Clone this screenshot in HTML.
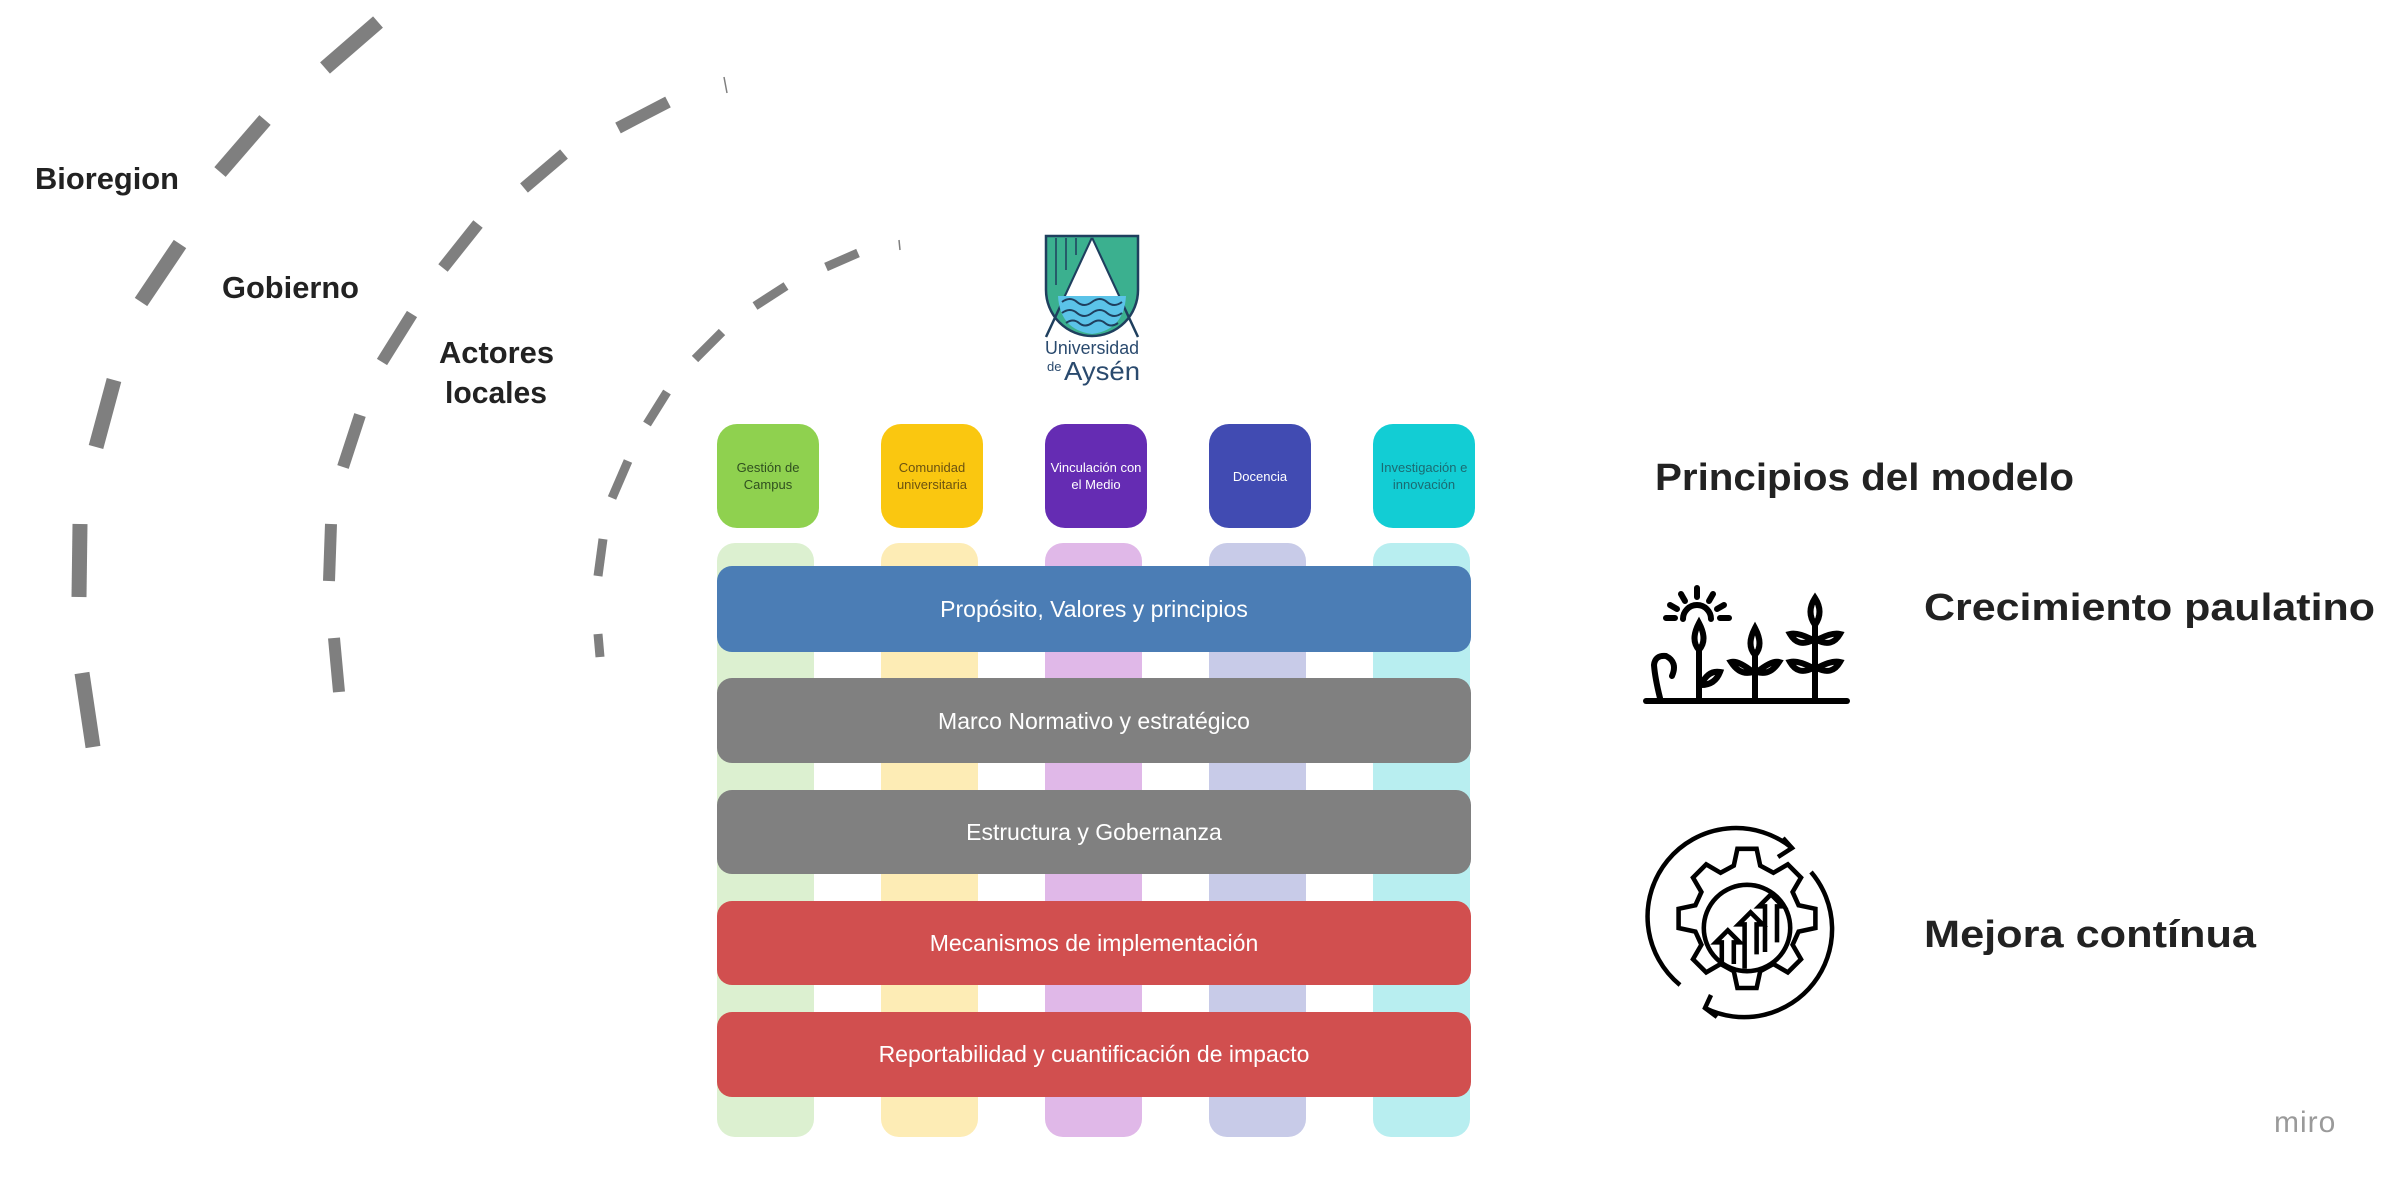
<!DOCTYPE html>
<html><head><meta charset="utf-8"><style>
html,body{margin:0;padding:0;background:#fff;}
svg{display:block;}
</style></head><body>
<svg width="2406" height="1192" viewBox="0 0 2406 1192" xmlns="http://www.w3.org/2000/svg" font-family="Liberation Sans, sans-serif">
<rect width="2406" height="1192" fill="#fff"/>
<g stroke="#7f7f7f" stroke-linecap="butt" fill="none">
 <g stroke-width="15">
  <line x1="325" y1="68" x2="378" y2="22"/>
  <line x1="220" y1="172" x2="265" y2="120"/>
  <line x1="141" y1="302" x2="180" y2="244"/>
  <line x1="96" y1="447" x2="114" y2="380"/>
  <line x1="79" y1="597" x2="80" y2="524"/>
  <line x1="82" y1="673" x2="93" y2="747"/>
 </g>
 <g stroke-width="12">
  <line x1="618" y1="128" x2="668" y2="102"/>
  <line x1="524" y1="188" x2="564" y2="154"/>
  <line x1="443" y1="268" x2="478" y2="224"/>
  <line x1="382" y1="362" x2="412" y2="314"/>
  <line x1="343" y1="467" x2="360" y2="415"/>
  <line x1="329" y1="581" x2="331" y2="524"/>
  <line x1="334" y1="638" x2="339" y2="692"/>
 </g>
 <line x1="724" y1="77" x2="727" y2="93" stroke-width="1.5"/>
 <g stroke-width="9">
  <line x1="826" y1="267" x2="858" y2="253"/>
  <line x1="755" y1="306" x2="786" y2="286"/>
  <line x1="695" y1="359" x2="722" y2="332"/>
  <line x1="647" y1="424" x2="667" y2="392"/>
  <line x1="612" y1="498" x2="628" y2="461"/>
  <line x1="598" y1="576" x2="603" y2="539"/>
  <line x1="598" y1="634" x2="600" y2="657"/>
 </g>
 <line x1="899" y1="240" x2="900" y2="250" stroke-width="1.5"/>
</g>
<g font-weight="bold" fill="#222" font-size="31">
 <text x="35" y="189" textLength="144" lengthAdjust="spacingAndGlyphs">Bioregion</text>
 <text x="222" y="298" textLength="137" lengthAdjust="spacingAndGlyphs">Gobierno</text>
 <text x="439" y="363" textLength="115" lengthAdjust="spacingAndGlyphs">Actores</text>
 <text x="445" y="403" textLength="102" lengthAdjust="spacingAndGlyphs">locales</text>
</g>
<g>
 <path d="M1046 236 H1138 V290 A46 46 0 0 1 1046 290 Z" fill="#3bb08f"/>
 <path d="M1092 238 L1138 337 M1092 238 L1046 337" stroke="#1f3f5e" stroke-width="2.5" fill="none"/>
 <path d="M1092 240 L1118 296 L1066 296 Z" fill="#fff"/>
 <path d="M1058 296 H1126 Q1124 330 1092 334 Q1060 330 1058 296Z" fill="#5bc3e8"/>
 <path d="M1062 302 q8-6 15 0 t15 0 t15 0 t15 0 M1062 313 q8-6 15 0 t15 0 t15 0 t15 0 M1066 323 q7-5 13 0 t13 0 t13 0 t13 0" stroke="#1f3f5e" stroke-width="2" fill="none"/>
 <path d="M1046 236 H1138 V290 A46 46 0 0 1 1046 290 Z" fill="none" stroke="#1f3f5e" stroke-width="2.5"/>
 <path d="M1056 238 V285 M1066 238 V270 M1076 238 V255" stroke="#1f3f5e" stroke-width="1.5"/>
 <text x="1092" y="354" text-anchor="middle" font-size="18" fill="#2a4a6e" textLength="94" lengthAdjust="spacingAndGlyphs">Universidad</text>
 <text x="1047" y="371" font-size="13" fill="#2a4a6e">de</text>
 <text x="1064" y="380" font-size="26" fill="#2a4a6e" textLength="76" lengthAdjust="spacingAndGlyphs">Aysén</text>
</g>
<g>
 <rect x="717" y="543" width="97" height="594" rx="18" fill="#dcf0d0"/>
 <rect x="881" y="543" width="97" height="594" rx="18" fill="#fdecb5"/>
 <rect x="1045" y="543" width="97" height="594" rx="18" fill="#e0b8e8"/>
 <rect x="1209" y="543" width="97" height="594" rx="18" fill="#c8cbe8"/>
 <rect x="1373" y="543" width="97" height="594" rx="18" fill="#b8eef0"/>
</g>
<g font-size="13" text-anchor="middle">
 <rect x="717" y="424" width="102" height="104" rx="20" fill="#8fd14f"/>
 <text x="768" y="472" fill="#2f4f1f">Gestión de</text><text x="768" y="489" fill="#2f4f1f">Campus</text>
 <rect x="881" y="424" width="102" height="104" rx="20" fill="#fac710"/>
 <text x="932" y="472" fill="#6b5210">Comunidad</text><text x="932" y="489" fill="#6b5210">universitaria</text>
 <rect x="1045" y="424" width="102" height="104" rx="20" fill="#652cb3"/>
 <text x="1096" y="472" fill="#fff">Vinculación con</text><text x="1096" y="489" fill="#fff">el Medio</text>
 <rect x="1209" y="424" width="102" height="104" rx="20" fill="#414bb2"/>
 <text x="1260" y="481" fill="#fff">Docencia</text>
 <rect x="1373" y="424" width="102" height="104" rx="20" fill="#12cdd4"/>
 <text x="1424" y="472" fill="#1b6b72">Investigación e</text><text x="1424" y="489" fill="#1b6b72">innovación</text>
</g>
<g font-size="23" fill="#fff" text-anchor="middle">
 <rect x="717" y="566" width="754" height="86" rx="15" fill="#4b7db5"/>
 <text x="1094" y="617">Propósito, Valores y principios</text>
 <rect x="717" y="678" width="754" height="85" rx="15" fill="#808080"/>
 <text x="1094" y="729">Marco Normativo y estratégico</text>
 <rect x="717" y="790" width="754" height="84" rx="15" fill="#808080"/>
 <text x="1094" y="840">Estructura y Gobernanza</text>
 <rect x="717" y="901" width="754" height="84" rx="15" fill="#d14f4f"/>
 <text x="1094" y="951">Mecanismos de implementación</text>
 <rect x="717" y="1012" width="754" height="85" rx="15" fill="#d14f4f"/>
 <text x="1094" y="1062">Reportabilidad y cuantificación de impacto</text>
</g>
<g font-weight="bold" fill="#222" font-size="38">
 <text x="1655" y="490" textLength="419" lengthAdjust="spacingAndGlyphs">Principios del modelo</text>
 <text x="1924" y="620" textLength="451" lengthAdjust="spacingAndGlyphs">Crecimiento paulatino</text>
 <text x="1924" y="947" textLength="332" lengthAdjust="spacingAndGlyphs">Mejora contínua</text>
</g>
<g stroke="#000" stroke-width="6" fill="none" stroke-linecap="round">
 <line x1="1646" y1="701" x2="1847" y2="701"/>
 <path d="M1683 619 A14 14 0 0 1 1711 619"/>
 <path d="M1666 618 H1675 M1720 618 H1729 M1670 605 L1677 609 M1724 605 L1717 609 M1681 594 L1685 601 M1713 594 L1709 601 M1697 588 V597"/>
 <path d="M1660 698 Q1655 678 1654 665 Q1655 655 1666 656 Q1678 662 1672 676"/>
 <path d="M1699 698 V650 M1699 650 Q1690 640 1699 623 Q1708 640 1699 650 M1701 685 Q1708 670 1720 672 Q1715 685 1701 685"/>
 <path d="M1755 698 V655 M1755 655 Q1746 645 1755 628 Q1764 645 1755 655 M1753 672 Q1738 660 1731 662 Q1740 676 1753 672 M1757 672 Q1772 660 1779 662 Q1770 676 1757 672"/>
 <path d="M1815 698 V625 M1815 625 Q1806 612 1815 598 Q1824 612 1815 625 M1813 640 Q1798 632 1790 634 Q1798 648 1813 640 M1817 640 Q1832 632 1840 634 Q1832 648 1817 640 M1813 668 Q1798 660 1790 662 Q1798 676 1813 668 M1817 668 Q1832 660 1840 662 Q1832 676 1817 668"/>
</g>
<g stroke="#000" stroke-width="4.5" fill="none">
 <path d="M1680 985 A88 88 0 0 1 1792 848"/>
 <path d="M1783 838 L1792 848 L1778 857"/>
 <path d="M1811 872 A88 88 0 0 1 1705 1008"/>
 <path d="M1711 995 L1705 1008 L1717 1017"/>
 <g transform="translate(1747 928) scale(1.2) translate(-1747 -928)">
 <path d="M1739 862 h16 l3 14 l11 6 l12 -7 l11 11 l-7 12 l5 11 l14 3 v16 l-14 3 l-5 11 l7 12 l-11 11 l-12 -7 l-11 6 l-3 14 h-16 l-3 -14 l-11 -6 l-12 7 l-11 -11 l7 -12 l-5 -11 l-14 -3 v-16 l14 -3 l5 -11 l-7 -12 l11 -11 l12 7 l11 -6 z" stroke-width="3.8"/>
 <circle cx="1747" cy="928" r="36" stroke-width="3.8"/>
 <path d="M1726 958 V940 h-5 l10 -10 l10 10 h-5 v18 M1745 962 V925 h-5 l10 -10 l10 10 h-5 v25 M1762 948 V910 h-5 l10 -10 l10 10 h-5 v30" stroke-width="3.8"/>
 </g>
</g>
<text x="2274" y="1132" font-size="30" fill="#9a9a9a" letter-spacing="1">miro</text>
</svg>
</body></html>
